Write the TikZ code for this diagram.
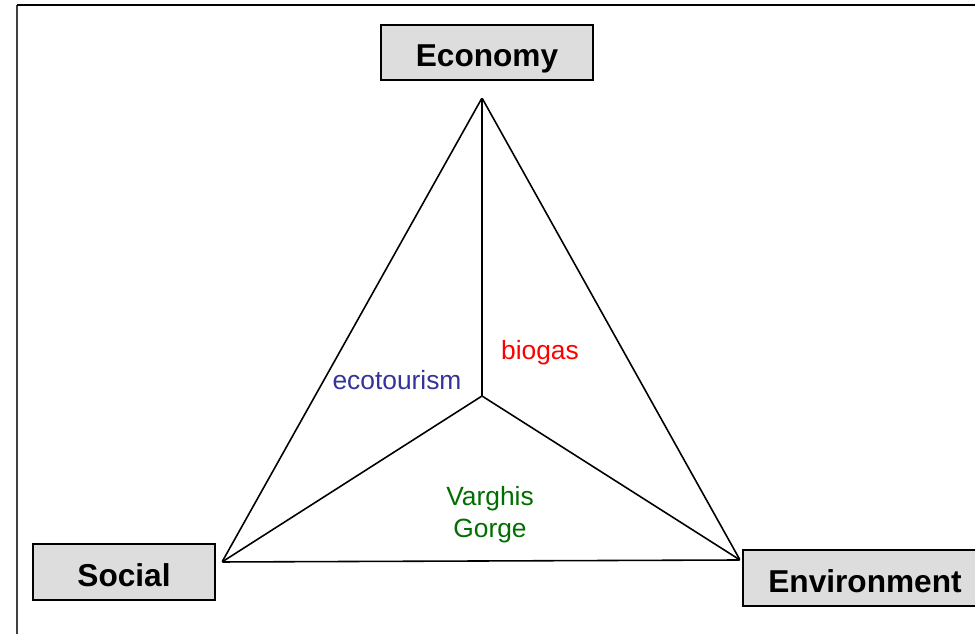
\documentclass[tikz,border=0pt]{standalone}
\usepackage{fontspec}
\setmainfont{Liberation Sans}
\usepackage{tikz}
\usetikzlibrary{positioning}

\begin{document}
\begin{tikzpicture}
			\tikzstyle{Pillar}	= [draw=black, line width=0.8pt, fill={rgb,255:red,221;green,221;blue,221}, font=\fontsize{18}{20}\selectfont\bfseries, inner sep=0pt, text height=16.3pt, text depth=0pt]
			\tikzstyle{Corner}	= [inner sep=0pt, minimum size=0pt]
			\tikzstyle{Case}	= [font=\fontsize{15}{18}\selectfont, align=center]
			\tikzstyle{Edge}	= [line width=0.9pt, black]
			
			\useasboundingbox (0,0) rectangle (19.5,12.68);
			\draw [line width=1.1pt, black!75] (0.34,0) -- (0.34,12.58);
			\draw [line width=1.1pt, black] (0.34,12.58) -- (19.6,12.58);
			
			\node (eco) at (9.74,11.63) [Pillar][minimum width=4.24cm, minimum height=1.1cm] {Economy};
			\node (soc) at (2.48,1.24) [Pillar][minimum width=3.64cm, minimum height=1.12cm] {Social};
			\node (env) at (17.3,1.12) [Pillar][minimum width=4.88cm, minimum height=1.12cm] {Environment};
			
			\node (top) at (9.64,10.72) [Corner] {};
			\node (left) at (4.44,1.44) [Corner] {};
			\node (right) at (14.8,1.48) [Corner] {};
			\node (mid) at (9.64,4.76) [Corner] {};
			
			\draw [-] (top) to (left) [Edge];
			\draw [-] (top) to (right) [Edge];
			\draw [-] (left) to (right) [Edge];
			\draw [-] (mid) to (top) [Edge];
			\draw [-] (mid) to (left) [Edge];
			\draw [-] (mid) to (right) [Edge];
			
			\node (eco-case) at (7.94,5.07) [Case][text={rgb,255:red,51;green,51;blue,153}] {ecotourism};
			\node (bio-case) at (10.8,5.63) [Case][text=red] {biogas};
			\node (soc-case) at (9.8,2.38) [Case][text={rgb,255:red,0;green,110;blue,0}] {Varghis\\Gorge};
		\end{tikzpicture}
\end{document}
